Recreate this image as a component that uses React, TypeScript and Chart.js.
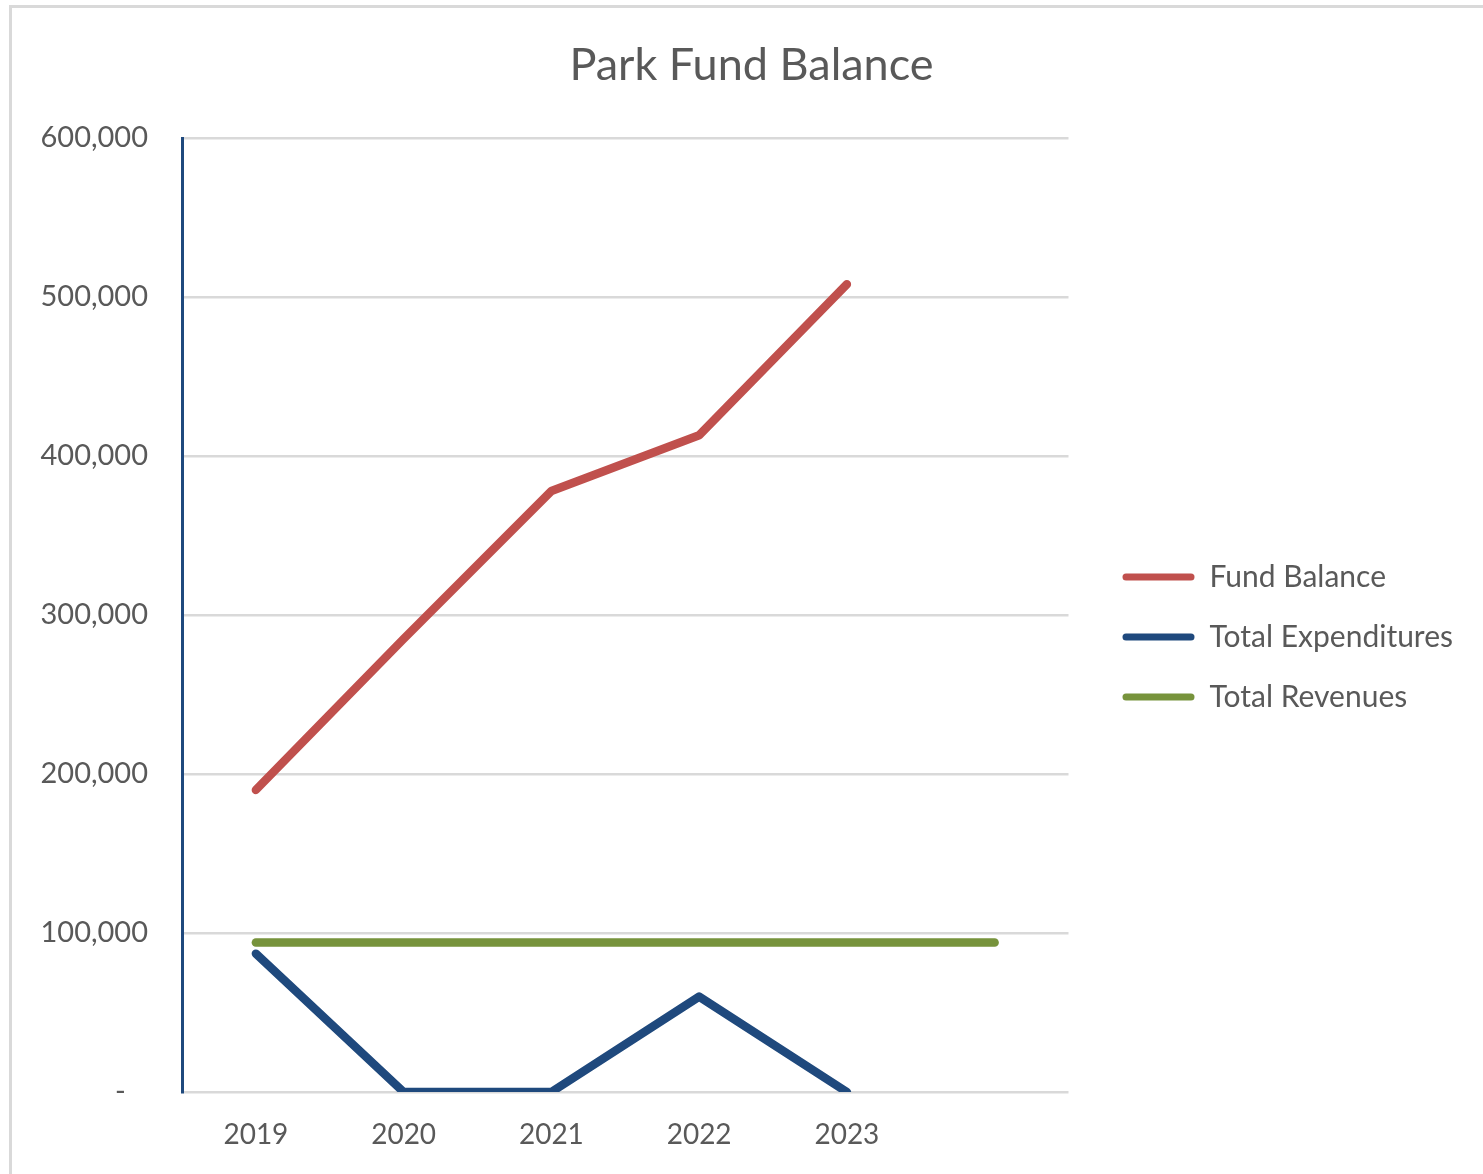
import React, { useEffect, useRef } from "react";
import { Chart, registerables } from "chart.js";

Chart.register(...registerables);

const categories = ["2019", "2020", "2021", "2022", "2023", ""];
const fundBalance = [190000, 285000, 378000, 413000, 508000, null];
const totalExpenditures = [87000, 0, 0, 60000, 0, null];
const totalRevenues = [94000, 94000, 94000, 94000, 94000, 94000];
const yTicks = [0, 100000, 200000, 300000, 400000, 500000, 600000];

const seriesNames = ["Fund Balance", "Total Expenditures", "Total Revenues"];
const seriesColors = ["#c0504d", "#1f497d", "#77933c"];

const FONT = "Lato, 'Open Sans', sans-serif";
const TEXT = "#595959";

export default function App() {
  const ref = useRef<HTMLCanvasElement | null>(null);

  useEffect(() => {
    if (!ref.current) return;
    const values = [fundBalance, totalExpenditures, totalRevenues];
    const chart = new Chart(ref.current, {
      type: "line",
      data: {
        labels: categories,
        datasets: seriesNames.map((name, i) => ({
          label: name,
          data: values[i],
          borderColor: seriesColors[i],
          backgroundColor: seriesColors[i],
          borderWidth: 8.5,
          borderCapStyle: "round",
          borderJoinStyle: "round",
          pointRadius: 0,
          pointHoverRadius: 0,
          tension: 0,
          spanGaps: false,
          yAxisID: "y",
        })),
      },
      options: {
        responsive: false,
        animation: false,
        layout: { padding: { top: 10, right: 20, left: 40, bottom: 10 } },
        plugins: {
          title: {
            display: true,
            text: "Park Fund Balance",
            color: TEXT,
            font: { family: FONT, size: 45, weight: "normal", lineHeight: 1.2 },
            padding: { top: 28, bottom: 46 },
          },
          tooltip: { enabled: false },
          legend: {
            position: "right",
            align: "center",
            maxWidth: 380,
            title: {
              display: true,
              text: " ",
              font: { family: FONT, size: 30, lineHeight: 1.2 },
              padding: { top: 32, bottom: 32 },
            },
            labels: {
              boxWidth: 72,
              boxHeight: 7,
              padding: 30,
              color: TEXT,
              font: { family: FONT, size: 30 },
              useBorderRadius: true,
              borderRadius: 3.5,
              generateLabels: (c: any) =>
                c.data.datasets.map((ds: any, i: number) => ({
                  text: ds.label,
                  fillStyle: ds.borderColor,
                  strokeStyle: ds.borderColor,
                  lineWidth: 0,
                  fontColor: TEXT,
                  datasetIndex: i,
                  hidden: false,
                  borderRadius: 3.5,
                })),
            },
          },
        },
        scales: {
          x: {
            type: "category",
            offset: true,
            grid: { display: false },
            border: { display: false },
            afterFit: (s: any) => {
              s.height = 72;
            },
            ticks: {
              color: TEXT,
              font: { family: FONT, size: 28 },
              padding: 18,
              maxRotation: 0,
            },
          },
          y: {
            min: 0,
            max: 600000,
            afterBuildTicks: (s: any) => {
              s.ticks = yTicks.map((v) => ({ value: v }));
            },
            afterFit: (s: any) => {
              s.width = 142;
            },
            border: { display: true, color: "#1f497d", width: 3 },
            grid: {
              color: "#d9d9d9",
              lineWidth: 2.5,
              drawTicks: false,
            },
            ticks: {
              color: TEXT,
              font: { family: FONT, size: 29 },
              padding: 34,
              callback: (v: any) =>
                Number(v) === 0 ? "-   " : Number(v).toLocaleString("en-US"),
            },
          },
          gap: {
            type: "linear",
            position: "right",
            display: true,
            min: 0,
            max: 1,
            grid: { display: false, drawOnChartArea: false },
            border: { display: false },
            ticks: { display: false },
            afterFit: (s: any) => {
              s.width = 24;
            },
          },
        },
      },
    });
    return () => chart.destroy();
  }, []);

  return (
    <div
      style={{
        position: "fixed",
        left: 0,
        top: 0,
        width: 1483,
        height: 1174,
        background: "#ffffff",
        overflow: "hidden",
      }}
    >
      <div
        style={{
          position: "absolute",
          left: 9,
          top: 5,
          width: 1500,
          height: 1200,
          borderTop: "3px solid #d9d9d9",
          borderLeft: "3px solid #d9d9d9",
        }}
      />
      <canvas
        ref={ref}
        width={1483}
        height={1174}
        style={{ position: "absolute", left: 0, top: 0, width: 1483, height: 1174 }}
      />
    </div>
  );
}
